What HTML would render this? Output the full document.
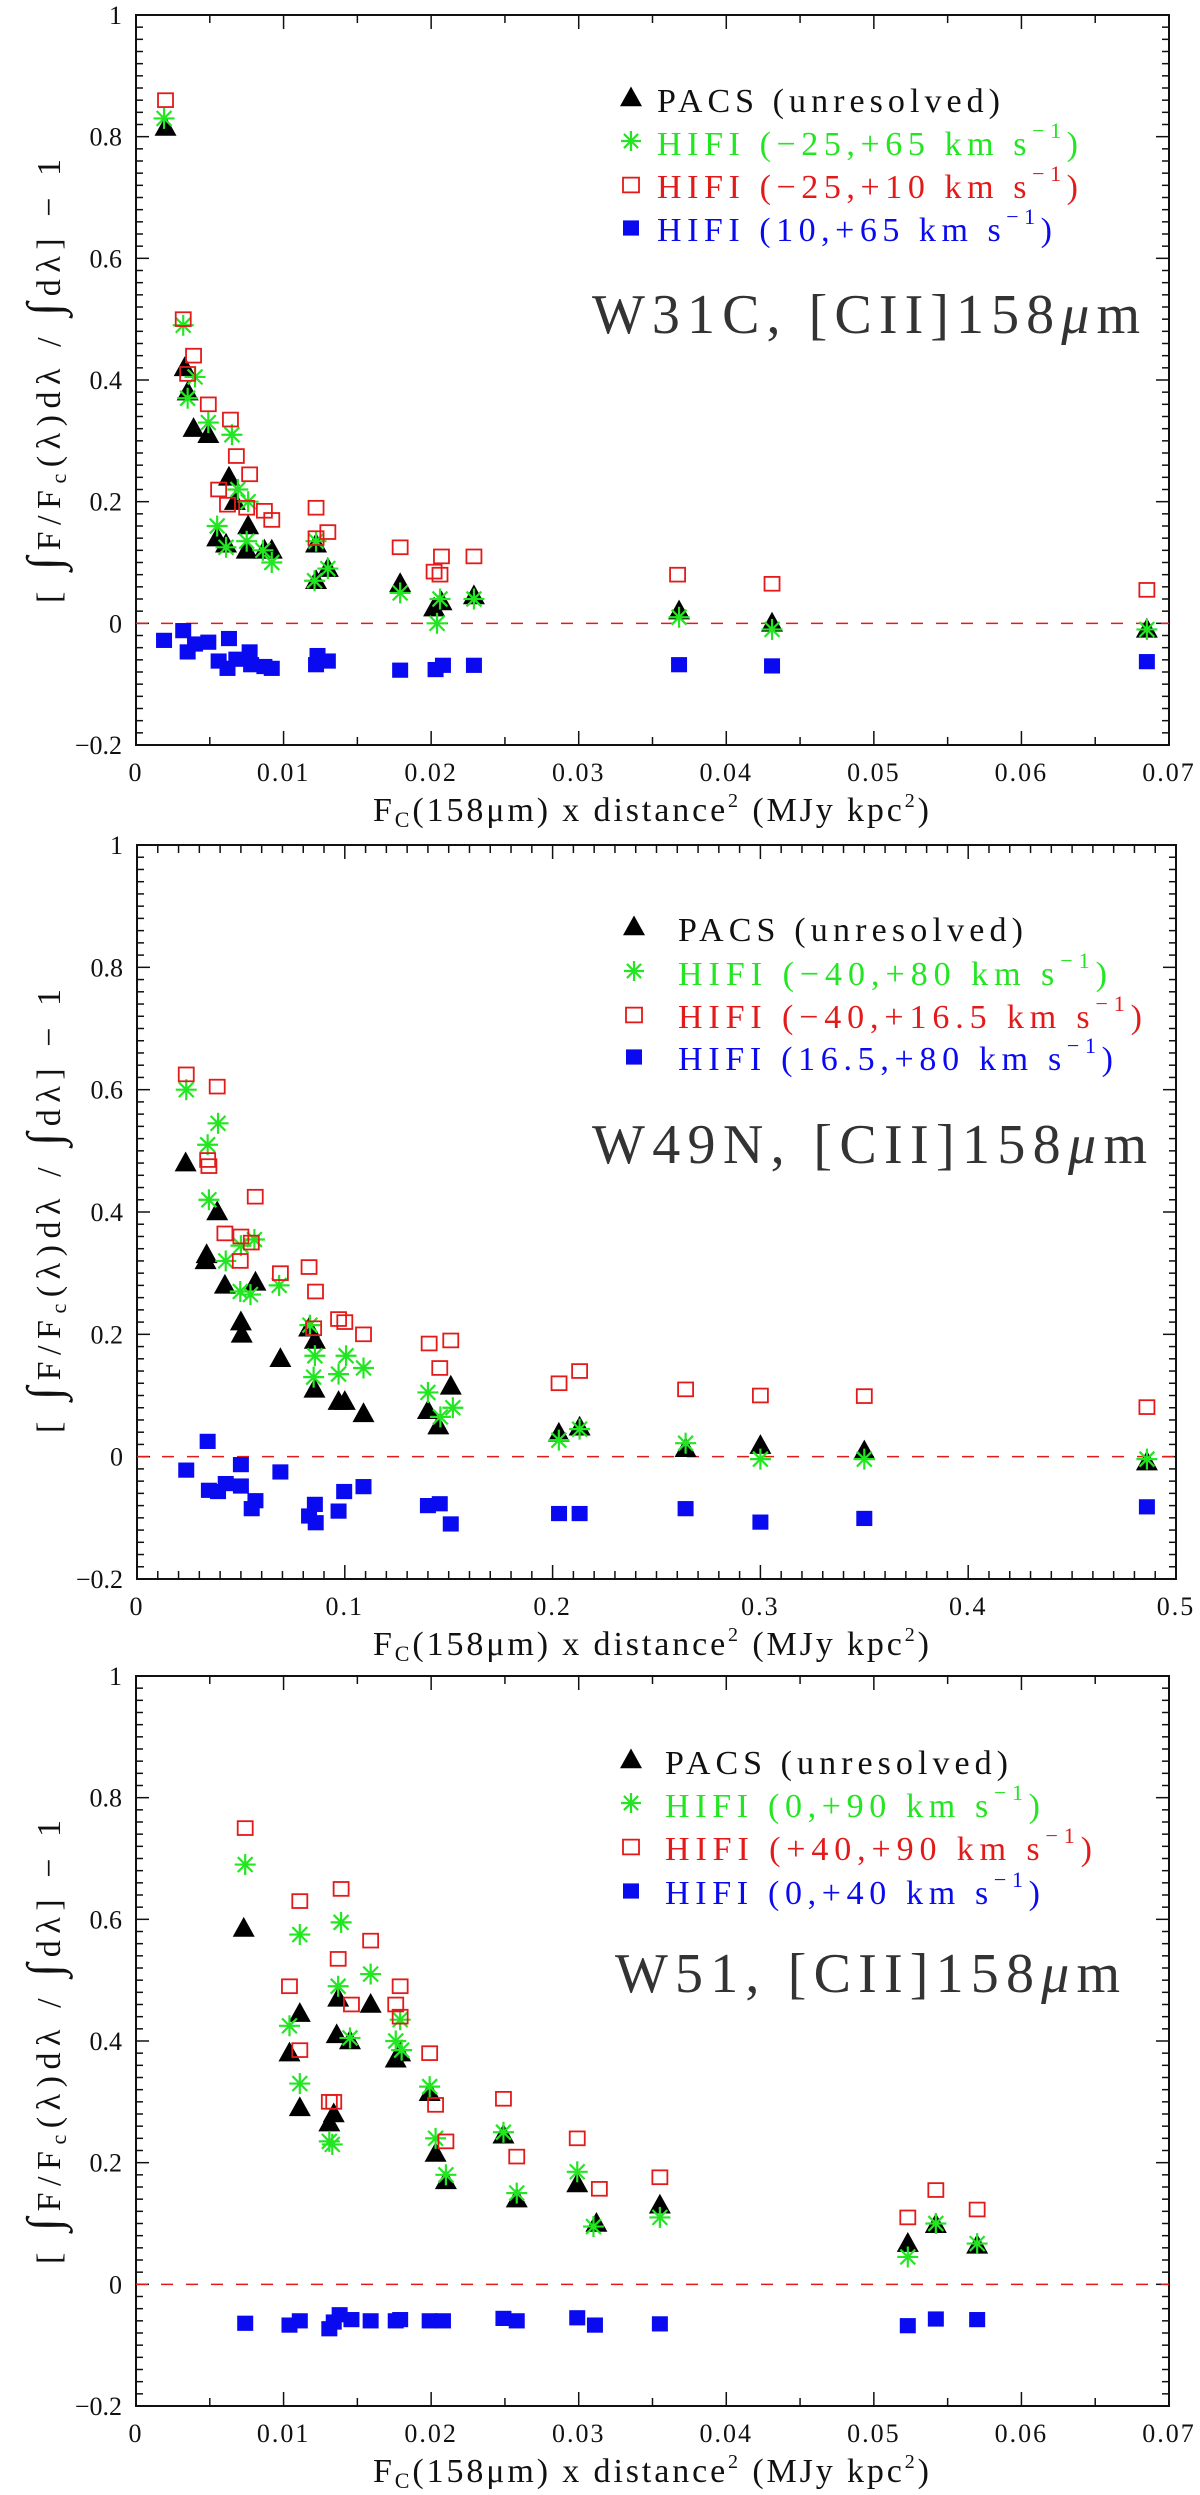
<!DOCTYPE html>
<html><head><meta charset="utf-8"><style>
html,body{margin:0;padding:0;background:#fff;}
svg{display:block;font-family:"Liberation Serif",serif;}
</style></head>
<body>
<svg id="fig" width="1200" height="2495" viewBox="0 0 1200 2495" xmlns="http://www.w3.org/2000/svg"></svg>
<script>
// ---------- Panel 1: W31C ----------
const p1PacsX=[.0020,.0033,.0035,.0039,.0049,.0063,.0055,.0061,.0067,.0076,.0075,.0087,.0092,.0122,.0122,.0130,.0179,.0202,.0207,.0229,.0368,.0431,.0685];
const p1PacsY=[.815,.42,.38,.32,.31,.24,.14,.13,.20,.16,.12,.12,.12,.13,.07,.09,.065,.025,.035,.045,.02,.0,-.01];
const p1GreenX=[.0019,.0032,.0040,.0035,.0049,.0065,.0055,.0061,.0069,.0076,.0075,.0086,.0092,.0122,.0121,.0130,.0179,.0204,.0206,.0229,.0368,.0431,.0685];
const p1GreenY=[.83,.49,.405,.37,.33,.31,.16,.125,.22,.20,.135,.12,.10,.135,.07,.09,.05,.0,.04,.04,.01,-.01,-.01];
const p1RedX=[.0020,.0032,.0039,.0035,.0049,.0064,.0068,.0077,.0056,.0062,.0075,.0087,.0092,.0122,.0122,.0130,.0179,.0202,.0206,.0207,.0229,.0367,.0431,.0685];
const p1RedY=[.86,.50,.44,.41,.36,.335,.275,.245,.22,.195,.19,.185,.17,.19,.14,.15,.125,.085,.08,.11,.11,.08,.065,.055];
const p1BlueX=[.0019,.0032,.0035,.0040,.0049,.0063,.0056,.0062,.0068,.0077,.0078,.0087,.0092,.0122,.0123,.0130,.0179,.0203,.0208,.0229,.0368,.0431,.0685];
const p1BlueY=[-.028,-.012,-.047,-.034,-.031,-.025,-.062,-.074,-.059,-.047,-.068,-.071,-.074,-.068,-.053,-.062,-.077,-.076,-.069,-.069,-.068,-.070,-.063];
const p1XTicks=["0","0.01","0.02","0.03","0.04","0.05","0.06","0.07"];
// ---------- Panel 2: W49N ----------
const p2PacsX=[.0234,.0335,.033,.0386,.0423,.050,.0504,.057,.069,.0828,.0856,.0854,.097,.100,.109,.140,.145,.151,.203,.213,.264,.300,.350,.486];
const p2PacsY=[.48,.33,.32,.40,.28,.22,.20,.285,.16,.21,.19,.11,.09,.09,.07,.075,.05,.115,.038,.048,.013,.018,.009,-.009];
const p2GreenX=[.0237,.034,.039,.0346,.0427,.0497,.0546,.050,.0565,.0684,.0832,.0856,.085,.097,.1006,.109,.140,.146,.152,.203,.213,.264,.300,.350,.486];
const p2GreenY=[.60,.51,.545,.42,.32,.27,.265,.345,.355,.28,.215,.165,.13,.135,.165,.145,.105,.065,.08,.027,.045,.022,-.004,-.004,-.004];
const p2RedX=[.0237,.0386,.034,.0346,.0569,.0423,.050,.055,.0497,.069,.0828,.0859,.085,.097,.100,.109,.1406,.1457,.151,.2031,.213,.264,.300,.350,.486];
const p2RedY=[.625,.605,.485,.475,.425,.365,.36,.35,.32,.30,.31,.27,.21,.225,.22,.20,.185,.145,.19,.12,.14,.11,.10,.099,.081];
const p2BlueX=[.0237,.034,.0346,.039,.0427,.050,.050,.0552,.057,.069,.0828,.0856,.086,.097,.0997,.109,.140,.1457,.151,.2031,.213,.264,.300,.350,.486];
const p2BlueY=[-.022,.025,-.055,-.057,-.044,-.013,-.048,-.085,-.072,-.025,-.097,-.078,-.108,-.089,-.057,-.049,-.080,-.077,-.11,-.093,-.093,-.085,-.107,-.101,-.082];
const p2XTicks=["0","0.1","0.2","0.3","0.4","0.5"];
// ---------- Panel 3: W51 ----------
const p3PacsX=[.0073,.0111,.0104,.0111,.0131,.0134,.0137,.0136,.0145,.0159,.0176,.0179,.0199,.0203,.021,.0249,.0258,.0299,.0312,.0355,.0523,.0542,.0570];
const p3PacsY=[.585,.445,.38,.29,.265,.28,.47,.41,.40,.46,.37,.38,.315,.215,.17,.245,.14,.165,.10,.13,.067,.098,.064];
const p3GreenX=[.0074,.0111,.0104,.0111,.0131,.0133,.0139,.0137,.0145,.0159,.0176,.0179,.0180,.0199,.0203,.021,.0249,.0258,.0299,.031,.0355,.0523,.0542,.057];
const p3GreenY=[.69,.575,.425,.33,.235,.23,.595,.49,.405,.51,.40,.435,.385,.325,.24,.18,.25,.15,.185,.095,.11,.045,.10,.067];
const p3RedX=[.0074,.0111,.0139,.0104,.0137,.0159,.0146,.0176,.0179,.0179,.0111,.0131,.0134,.0199,.0203,.021,.0249,.0258,.0299,.0314,.0355,.0523,.0542,.057];
const p3RedY=[.75,.63,.65,.49,.535,.565,.46,.46,.49,.44,.385,.30,.30,.38,.295,.235,.305,.21,.24,.157,.176,.11,.155,.123];
const p3BlueX=[.0074,.0104,.0111,.0131,.0134,.0138,.0146,.0159,.0176,.0179,.0199,.0208,.0249,.0258,.0299,.0311,.0355,.0523,.0542,.057];
const p3BlueY=[-.064,-.067,-.06,-.073,-.062,-.05,-.058,-.06,-.06,-.058,-.06,-.06,-.056,-.06,-.055,-.067,-.065,-.068,-.057,-.058];
const p3XTicks=["0","0.01","0.02","0.03","0.04","0.05","0.06","0.07"];
const yTicks=["\u22120.2","0","0.2","0.4","0.6","0.8","1"];

const NS="http://www.w3.org/2000/svg";
const svg=document.getElementById('fig');
const GREEN="#22e622", RED="#e31a1a", BLUE="#0a0af0";
function mk(tag,parent,attrs){const e=document.createElementNS(NS,tag);for(const k in attrs)e.setAttribute(k,attrs[k]);parent.appendChild(e);return e;}

function tri(g,cx,cy,s){const e=mk('polygon',g,{points:`${cx-s},${cy+s*0.75} ${cx+s},${cy+s*0.75} ${cx},${cy-s*1.05}`,fill:'#000'});return e;}
function star(g,cx,cy,s){const gg=mk('g',g,{stroke:GREEN,'stroke-width':2.2});for(let i=0;i<4;i++){const a=i*Math.PI/4;mk('line',gg,{x1:cx-s*Math.cos(a),y1:cy-s*Math.sin(a),x2:cx+s*Math.cos(a),y2:cy+s*Math.sin(a)});}return gg;}
function osq(g,cx,cy,s){return mk('rect',g,{x:cx-s,y:cy-s*0.92,width:2*s,height:1.84*s,fill:'none',stroke:RED,'stroke-width':1.8});}
function fsq(g,cx,cy,s){return mk('rect',g,{x:cx-s,y:cy-s*0.95,width:2*s,height:1.9*s,fill:BLUE});}

function panel(o){
  const g=mk('g',svg,{});
  
  
  const L=o.left,R=o.right,T=o.top,B=o.bottom;
  const sx=v=>L+(v-0)/(o.xmax)*(R-L);
  const sy=v=>T+(1-v)/1.2*(B-T);
  const fr=mk('rect',g,{x:L,y:T,width:R-L,height:B-T,fill:'none',stroke:'#111','stroke-width':2});
  
  
  for(let i=0;i<=60;i++){const v=-0.2+i*0.02;const y=sy(v);const major=i%10===0;const len=major?13:7;
    mk('line',g,{x1:L,y1:y,x2:L+len,y2:y,stroke:'#111','stroke-width':1.5});
    mk('line',g,{x1:R,y1:y,x2:R-len,y2:y,stroke:'#111','stroke-width':1.5});}
  yTicks.forEach((t,i)=>{const tl=mk('text',g,{x:L-14,y:sy(-0.2+i*0.2)+9,'text-anchor':'end','font-size':26,fill:'#111'});tl.textContent=t;
    
    });
  const nMin=Math.round(o.xmax/o.minor);
  for(let i=0;i<=nMin;i++){const v=i*o.minor;const x=sx(v);const major=i%o.perMajor===0;const len=major?14:8;
    mk('line',g,{x1:x,y1:B,x2:x,y2:B-len,stroke:'#111','stroke-width':1.5});
    mk('line',g,{x1:x,y1:T,x2:x,y2:T+len,stroke:'#111','stroke-width':1.5});}
  o.xticks.forEach((t,i)=>{const tl=mk('text',g,{x:sx(i*o.major),y:B+36,'text-anchor':'middle','font-size':26,fill:'#111','letter-spacing':2});tl.textContent=t;
    
    });
  const zl=mk('line',g,{x1:L,y1:sy(0),x2:R,y2:sy(0),stroke:RED,'stroke-width':1.5,'stroke-dasharray':'12 13'});
  
  
  const gP=mk('g',g,{});
  o.pacsX.forEach((x,i)=>{const m=tri(gP,sx(x),sy(o.pacsY[i]),11);
    
    });
  const gG=mk('g',g,{});
  o.greenX.forEach((x,i)=>{const m=star(gG,sx(x),sy(o.greenY[i]),10.5);
    
    });
  const gR=mk('g',g,{});
  o.redX.forEach((x,i)=>{const m=osq(gR,sx(x),sy(o.redY[i]),7.5);
    
    });
  const gB=mk('g',g,{});
  o.blueX.forEach((x,i)=>{const m=fsq(gB,sx(x),sy(o.blueY[i]),8);
    
    });
  const yt=mk('text',g,{transform:`translate(60,${T+366}) rotate(-90)`,'text-anchor':'middle','font-size':34,fill:'#111',textLength:444,lengthAdjust:'spacing'});
  yt.innerHTML='[ <tspan font-size="48">\u222B</tspan>F/F<tspan font-size="22" dy="6">c</tspan><tspan dy="-6">(\u03BB)d\u03BB / </tspan><tspan font-size="48">\u222B</tspan>d\u03BB] \u2212 1';
  
  
  const xt=mk('text',g,{x:373,y:B+76,'font-size':34,fill:'#111',textLength:556,lengthAdjust:'spacing'});
  xt.innerHTML='F<tspan font-size="22" dy="6">C</tspan><tspan dy="-6">(158\u03BCm) x distance</tspan><tspan font-size="20" dy="-14">2</tspan><tspan dy="14"> (MJy kpc</tspan><tspan font-size="20" dy="-14">2</tspan><tspan dy="14">)</tspan>';
  
  
  const lg=mk('g',g,{});
  const ly=o.legY, sxl=o.legSym, tx=o.legText;
  const syms=[(yy)=>tri(lg,sxl,yy-2,11),(yy)=>star(lg,sxl,yy-2,10),(yy)=>osq(lg,sxl,yy-1,8),(yy)=>fsq(lg,sxl,yy-1,8)];
  const cols=['#111',GREEN,RED,BLUE];
  o.legLabels.forEach((lab,i)=>{
    const m=syms[i](ly[i]);
    
    
    const t=mk('text',lg,{x:tx,y:ly[i]+12,'font-size':34,fill:cols[i],textLength:o.legW[i],lengthAdjust:'spacing'});
    if(i===0){t.textContent=lab;}else{t.innerHTML=lab+'<tspan font-size="22" dy="-17">\u22121</tspan><tspan dy="17">)</tspan>';}
    
    
  });
  const ti=mk('text',g,{x:o.titleX,y:o.titleY,'font-size':56,fill:'#333',textLength:o.titleW,lengthAdjust:'spacing'});
  ti.innerHTML=o.title;
  
  
}

panel({name:'panel-w31c',left:136,right:1169,top:15,bottom:745,xmax:0.07,minor:0.005,perMajor:2,major:0.01,xticks:p1XTicks,
  pacsX:p1PacsX,pacsY:p1PacsY,greenX:p1GreenX,greenY:p1GreenY,redX:p1RedX,redY:p1RedY,blueX:p1BlueX,blueY:p1BlueY,
  legY:[100,143,186,229],legSym:631,legText:657,legW:[343,421,421,395],
  legLabels:['PACS (unresolved)','HIFI (\u221225,+65 km s','HIFI (\u221225,+10 km s','HIFI (10,+65 km s'],
  title:'W31C, [CII]158<tspan font-style="italic">\u03BC</tspan>m',titleX:592,titleY:333,titleW:548});
panel({name:'panel-w49n',left:137,right:1176,top:845,bottom:1579,xmax:0.5,minor:0.01,perMajor:10,major:0.1,xticks:p2XTicks,
  pacsX:p2PacsX,pacsY:p2PacsY,greenX:p2GreenX,greenY:p2GreenY,redX:p2RedX,redY:p2RedY,blueX:p2BlueX,blueY:p2BlueY,
  legY:[929,973,1016,1058],legSym:634,legText:678,legW:[345,429,464,435],
  legLabels:['PACS (unresolved)','HIFI (\u221240,+80 km s','HIFI (\u221240,+16.5 km s','HIFI (16.5,+80 km s'],
  title:'W49N, [CII]158<tspan font-style="italic">\u03BC</tspan>m',titleX:592,titleY:1163,titleW:555});
panel({name:'panel-w51',left:136,right:1169,top:1676,bottom:2406,xmax:0.07,minor:0.005,perMajor:2,major:0.01,xticks:p3XTicks,
  pacsX:p3PacsX,pacsY:p3PacsY,greenX:p3GreenX,greenY:p3GreenY,redX:p3RedX,redY:p3RedY,blueX:p3BlueX,blueY:p3BlueY,
  legY:[1762,1805,1848,1892],legSym:631,legText:665,legW:[343,375,427,375],
  legLabels:['PACS (unresolved)','HIFI (0,+90 km s','HIFI (+40,+90 km s','HIFI (0,+40 km s'],
  title:'W51, [CII]158<tspan font-style="italic">\u03BC</tspan>m',titleX:615,titleY:1992,titleW:505});
</script>
</body></html>
